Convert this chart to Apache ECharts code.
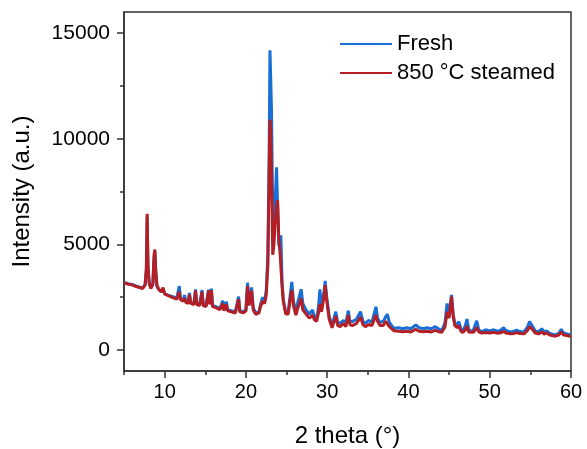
<!DOCTYPE html>
<html>
<head>
<meta charset="utf-8">
<script src="https://cdn.jsdelivr.net/npm/echarts@6/dist/echarts.min.js"></script>
<style>html,body{margin:0;padding:0;background:#fff;}#c{width:587px;height:449px;}</style>
</head>
<body>
<div id="c"></div>
<script>
// 2 theta grid (degrees)
var theta = [5.0,5.5,6.0,6.5,7.0,7.3,7.6,7.75,7.85,7.95,8.1,8.3,8.55,8.7,8.8,8.9,9.05,9.3,9.6,9.8,10.0,10.5,11.0,11.5,11.8,11.95,12.3,12.45,12.6,12.9,13.05,13.2,13.6,13.8,13.95,14.3,14.5,14.6,14.75,15.1,15.4,15.55,15.75,15.9,16.3,16.8,17.15,17.3,17.6,17.75,18.2,18.7,19.1,19.25,19.7,20.0,20.2,20.4,20.7,20.9,21.2,21.6,21.8,22.05,22.3,22.5,22.7,22.85,22.96,23.05,23.15,23.3,23.45,23.6,23.77,23.9,24.05,24.2,24.3,24.45,24.6,24.9,25.2,25.45,25.65,25.85,26.15,26.4,26.6,26.8,27.0,27.4,27.8,28.2,28.4,28.7,28.95,29.1,29.3,29.6,29.75,29.95,30.25,30.6,31.06,31.3,31.6,32.0,32.3,32.6,32.8,33.1,33.6,34.1,34.4,34.7,35.1,35.5,36.0,36.2,36.5,36.9,37.2,37.4,37.65,38.2,38.8,39.3,39.8,40.3,40.9,41.3,41.8,42.3,42.8,43.3,43.7,44.1,44.5,44.75,45.0,45.3,45.5,45.7,46.0,46.2,46.45,46.7,47.0,47.2,47.4,47.6,48.0,48.4,48.65,49.0,49.5,50.0,50.5,51.0,51.4,51.7,52.0,52.5,53.0,53.3,53.7,54.2,54.6,54.9,55.2,55.6,56.0,56.4,56.7,57.0,57.4,58.05,58.5,58.8,59.1,59.5,60.0];
// Fresh intensity
var fresh = [3200,3130,3100,3020,2960,2930,3100,3800,6300,3900,3200,2950,3150,4300,4650,3700,3000,2850,2750,2900,2650,2580,2520,2450,3020,2450,2350,2600,2300,2250,2700,2250,2200,2860,2200,2150,2600,2830,2150,2100,2850,2200,2900,2100,2050,1950,2330,1900,2280,1900,1850,1800,2520,1850,1800,1900,3180,2200,2960,2000,1750,1800,2150,2490,2300,2800,4500,9000,14190,12900,11300,6300,5500,7000,8650,6800,5000,4800,5430,3200,2400,1750,1800,2600,3220,2300,1810,2280,2200,2870,2200,1890,1700,1890,1600,1450,2100,2870,2000,2700,3270,2500,1570,1180,1810,1300,1260,1400,1250,1860,1350,1340,1450,1810,1350,1260,1400,1300,2040,1500,1300,1350,1570,1690,1300,1020,1050,1000,1050,1000,1180,1050,1000,1050,1000,1100,1000,900,1300,2200,1700,2600,1700,1260,1200,1340,1000,900,1150,1460,1000,850,950,1380,950,850,950,900,950,880,950,1050,920,850,880,940,870,850,1050,1340,1150,900,850,1000,850,900,780,710,780,980,800,760,710];
// 850 °C steamed intensity
var steamed = [3180,3110,3080,3000,2940,2910,3080,3850,6450,4000,3150,2900,3100,4500,4750,3800,3050,2850,2750,2950,2650,2560,2480,2400,2750,2380,2300,2450,2250,2200,2620,2200,2150,2800,2150,2100,2500,2750,2100,2050,2800,2150,2830,2050,2000,1900,2200,1850,2150,1850,1800,1750,2400,1800,1750,1850,3020,2100,2800,1900,1680,1750,2050,2300,2200,2600,4000,8000,10900,10500,8500,4500,5000,6000,6800,7080,5200,4600,4580,3000,2300,1700,1700,2400,2830,2100,1650,2000,1950,2440,1900,1700,1500,1650,1450,1350,1800,2160,1800,2500,3070,2300,1450,1050,1600,1150,1100,1250,1100,1650,1200,1150,1250,1550,1200,1100,1200,1150,1650,1350,1150,1150,1350,1420,1100,910,880,860,880,850,980,880,860,880,850,920,860,830,1100,1810,1500,2520,1600,1150,1050,1150,880,820,950,1130,850,790,830,1060,850,800,820,800,830,790,820,880,800,760,780,820,770,760,900,1100,1000,800,760,850,750,800,700,650,700,850,700,680,630];
var xMajor = [10,20,30,40,50,60];
var xMinor = [5,15,25,35,45,55];
var yMajor = [0,5000,10000,15000];
var yMinor = [2500,7500,12500];

function pairs(ys){ return theta.map(function(t,i){ return [t, ys[i]]; }); }
function plain(v){ return String(v); }

var FONT = '"Liberation Sans", Arial, sans-serif';
var AX = '#333';
var TXT = '#000';
var chart = echarts.init(document.getElementById('c'), null, {renderer:'canvas'});
chart.setOption({
  animation: false,
  backgroundColor: '#fff',
  grid: {left:124, right:16, top:12, bottom:78, outerBoundsMode:'none', containLabel:false, show:true, borderColor:AX, borderWidth:1.5, backgroundColor:'transparent'},
  legend: {
    left: 335, top: 28, orient:'vertical', icon:'rect',
    itemWidth: 52, itemHeight: 2, itemGap: 7,
    textStyle: {fontFamily: FONT, fontSize: 22, color:TXT, lineHeight:22},
    data: ['Fresh','850 °C steamed']
  },
  xAxis: [{
    type:'value', min:5, max:60, interval:5,
    name:'2 theta (°)', nameLocation:'middle', nameGap:53,
    nameTextStyle:{fontFamily:FONT, fontSize:24, color:TXT},
    axisLine:{show:true, onZero:false, lineStyle:{color:AX, width:1.5}},
    axisTick:{show:true, inside:false, length:7, lineStyle:{color:AX, width:1.5}, customValues:xMajor},
    axisLabel:{fontFamily:FONT, fontSize:20, color:TXT, margin:11, customValues:xMajor, formatter:plain},
    splitLine:{show:false}
  },{
    type:'value', min:5, max:60, interval:5, position:'bottom',
    axisLine:{show:false, onZero:false},
    axisTick:{show:true, inside:false, length:4, lineStyle:{color:AX, width:1.5}, customValues:xMinor},
    axisLabel:{show:false}, splitLine:{show:false}
  }],
  yAxis: [{
    type:'value', min:-1000, max:16000, interval:500,
    name:'Intensity (a.u.)', nameLocation:'middle', nameGap:90,
    nameTextStyle:{fontFamily:FONT, fontSize:24, color:TXT},
    axisLine:{show:true, onZero:false, lineStyle:{color:AX, width:1.5}},
    axisTick:{show:true, inside:false, length:7, lineStyle:{color:AX, width:1.5}, customValues:yMajor},
    axisLabel:{fontFamily:FONT, fontSize:21, color:TXT, margin:14, customValues:yMajor, formatter:plain},
    splitLine:{show:false}
  },{
    type:'value', min:-1000, max:16000, interval:500, position:'left',
    axisLine:{show:false, onZero:false},
    axisTick:{show:true, inside:false, length:4, lineStyle:{color:AX, width:1.5}, customValues:yMinor},
    axisLabel:{show:false}, splitLine:{show:false}
  }],
  series: [{
    name:'Fresh', type:'line', data:pairs(fresh), symbol:'none', smooth:false,
    lineStyle:{color:'#1a6fd6', width:3}, itemStyle:{color:'#1a6fd6'}, z:2
  },{
    name:'850 °C steamed', type:'line', data:pairs(steamed), symbol:'none', smooth:false,
    lineStyle:{color:'#b41f26', width:3}, itemStyle:{color:'#b41f26'}, z:3
  }]
});
</script>
</body>
</html>
